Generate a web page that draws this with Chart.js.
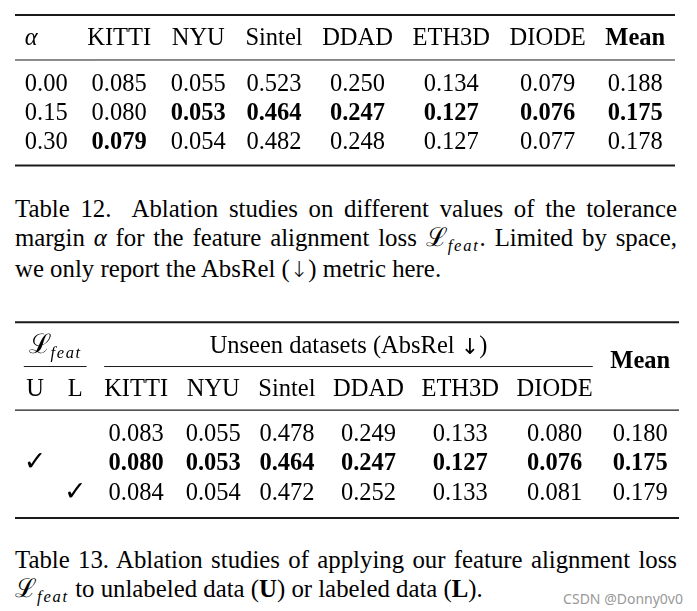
<!DOCTYPE html>
<html>
<head>
<meta charset="utf-8">
<script src="https://cdn.jsdelivr.net/npm/chart.js@4.4.1/dist/chart.umd.min.js"></script>
<style>
html,body{margin:0;padding:0;background:#fff}
body{width:697px;height:611px;position:relative;overflow:hidden}
canvas{position:absolute;left:0}
.cap{position:absolute;left:15px;width:662px;font:24.8px/28px 'Liberation Serif',serif;color:#000}
.cap div{white-space:nowrap}
.cap .j{text-align:justify;text-align-last:justify}
.cal{font-family:'DejaVu Serif',serif;font-size:26px}
.sub{font-size:16.5px;font-style:italic;letter-spacing:1.8px;position:relative;top:5px}
.arr{font-family:'DejaVu Sans',sans-serif;font-size:22px;font-weight:300}
#wm{position:absolute;right:14px;top:589px;font:14px 'Noto Sans',sans-serif;color:#999}
</style>
</head>
<body>
<canvas id="t12" width="697" height="180" style="top:0"></canvas>
<div class="cap" style="top:195px">
  <div class="j">Table 12.&nbsp; Ablation studies on different values of the tolerance</div>
  <div class="j">margin <i>α</i> for the feature alignment loss <span class="cal">ℒ</span><span class="sub">feat</span>. Limited by space,</div>
  <div>we only report the AbsRel (<span class="arr">↓</span>) metric here.</div>
</div>
<canvas id="t13" width="697" height="230" style="top:300px"></canvas>
<div class="cap" style="top:546px">
  <div class="j">Table 13. Ablation studies of applying our feature alignment loss</div>
  <div><span class="cal">ℒ</span><span class="sub">feat</span> to unlabeled data (<b>U</b>) or labeled data (<b>L</b>).</div>
</div>
<div id="wm">CSDN @Donny0v0</div>
<script>
// values (AbsRel, lower is better)
const datasetNames = ['KITTI','NYU','Sintel','DDAD','ETH3D','DIODE']
const alphaLabels = ['0.00','0.15','0.30']
const alpha000 = [0.085,0.055,0.523,0.250,0.134,0.079,0.188]
const alpha015 = [0.080,0.053,0.464,0.247,0.127,0.076,0.175]
const alpha030 = [0.079,0.054,0.482,0.248,0.127,0.077,0.178]

const featUnlabeled = ['', '✓', '']
const featLabeled = ['', '', '✓']
const rowNone = [0.083,0.055,0.478,0.249,0.133,0.080,0.180]
const rowU = [0.080,0.053,0.464,0.247,0.127,0.076,0.175]
const rowL = [0.084,0.054,0.472,0.252,0.133,0.081,0.179]

const SERIF = "'Liberation Serif', serif"
const F = '24.5px ' + SERIF
const FB = 'bold 24.5px ' + SERIF
const FI = 'italic 24.5px ' + SERIF
const FCHK = "bold 27px 'DejaVu Sans', sans-serif"
const PITCH = 29.4

const mctx = document.createElement('canvas').getContext('2d')
function tw(t, f){ mctx.font = f; return mctx.measureText(t).width }

// latex-ish column layout from content widths
function layoutCols(cols, left, width){
  const w = cols.map(c => Math.max(...c.map(s => s.text ? tw(s.text, s.font) : 0)))
  const pad = (width - w.reduce((a,b)=>a+b,0)) / (2*w.length)
  let x = left
  return w.map(cw => { const l = x; x += cw + 2*pad; return {l, r:x, c:(l+x)/2, pad} })
}

// bold = first minimum per column
function bestRows(rows){
  return rows[0].map((_,c) => {
    let b = 0
    rows.forEach((r,i) => { if (r[c] < rows[b][c]) b = i })
    return b
  })
}

function partsWidth(parts){
  return parts.reduce((s,p) => s + tw(p.t, p.font) + (p.ls||0)*p.t.length, 0)
}

const cellText = {
  id:'cellText',
  afterDatasetsDraw(chart){
    const ctx = chart.ctx
    chart.data.datasets.forEach((ds,di) => {
      if (!ds.cells) return
      chart.getDatasetMeta(di).data.forEach((pt,i) => {
        const d = ds.data[i]
        ctx.save()
        ctx.fillStyle = '#000'
        ctx.textBaseline = 'alphabetic'
        if (d.parts){
          let x = pt.x - partsWidth(d.parts)/2
          ctx.textAlign = 'left'
          d.parts.forEach(p => {
            ctx.font = p.font
            for (const ch of (p.ls ? [...p.t] : [p.t])){
              ctx.fillText(ch, x, pt.y + (p.dy||0))
              x += tw(ch, p.font) + (p.ls||0)
            }
          })
        } else {
          ctx.font = d.font
          ctx.textAlign = d.align || 'center'
          ctx.fillText(d.text, pt.x, pt.y)
        }
        ctx.restore()
      })
    })
  }
}

function rule(x0, x1, y, w){
  return {data:[{x:x0,y},{x:x1,y}], showLine:true, borderColor:'#1a1a1a', borderWidth:w, pointRadius:0, clip:false}
}

function makeTable(canvas, y0px, cells, rules){
  const h = canvas.height
  const yMin = -y0px / PITCH
  return new Chart(canvas, {
    type:'scatter',
    data:{datasets:[...rules, {cells:true, data:cells, pointRadius:0}]},
    options:{
      responsive:false, animation:false, events:[],
      layout:{padding:0},
      plugins:{legend:{display:false}, tooltip:{enabled:false}},
      scales:{
        x:{type:'linear', display:false, min:0, max:canvas.width},
        y:{type:'linear', display:false, min:yMin, max:yMin + h/PITCH, reverse:true}
      }
    },
    plugins:[cellText]
  })
}

// ---- Table 12 ----
{
  const rows = [alpha000, alpha015, alpha030]
  const best = bestRows(rows)
  const heads = [{text:'α', font:FI}, ...datasetNames.map(n => ({text:n, font:F})), {text:'Mean', font:FB}]
  const cols = heads.map((hd,c) => {
    const list = [hd]
    rows.forEach((r,i) => list.push(c === 0 ? {text:alphaLabels[i], font:F} : {text:r[c-1].toFixed(3), font:best[c-1]===i ? FB : F}))
    return list
  })
  const L = layoutCols(cols, 15, 660)
  const rowY = [0, 1.55, 2.55, 3.55]
  const cells = []
  cols.forEach((list,c) => list.forEach((s,r) => {
    cells.push({x: c === 0 ? L[0].l + L[0].pad : L[c].c, y: rowY[r], text:s.text, font:s.font, align: c === 0 ? 'left' : 'center'})
  }))
  const x0 = L[0].l, x1 = L[L.length-1].r
  makeTable(document.getElementById('t12'), 45, cells, [rule(x0,x1,-1.02,2), rule(x0,x1,0.51,1), rule(x0,x1,4.1,2)])
}

// ---- Table 13 ----
{
  const rows = [rowNone, rowU, rowL]
  const best = bestRows(rows)
  const cols = []
  cols.push([{text:'U', font:F}, ...featUnlabeled.map(t => ({text:t, font:FCHK}))])
  cols.push([{text:'L', font:F}, ...featLabeled.map(t => ({text:t, font:FCHK}))])
  datasetNames.concat(['Mean']).forEach((n,c) => {
    cols.push([{text:n, font: n === 'Mean' ? FB : F}, ...rows.map((r,i) => ({text:r[c].toFixed(3), font:best[c]===i ? FB : F}))])
  })
  const L = layoutCols(cols, 15, 664)
  const rowY = [1.46, 2.99, 3.99, 4.99]
  const cells = []
  cols.forEach((list,c) => list.forEach((s,r) => {
    if (!s.text) return
    cells.push({x:L[c].c, y: (c === 8 && r === 0) ? 0.51 : rowY[r], text:s.text, font:s.font})
  }))
  const featMid = (L[0].l + L[1].r)/2
  const unseenMid = (L[2].l + L[7].r)/2
  cells.push({x:featMid, y:0, parts:[
    {t:'ℒ', font:"27px 'DejaVu Serif', serif"},
    {t:'feat', font:'italic 16.5px ' + SERIF, dy:5, ls:1.6}
  ]})
  cells.push({x:unseenMid, y:0, parts:[
    {t:'Unseen datasets (AbsRel ', font:F},
    {t:'↓', font:"22px 'DejaVu Sans', sans-serif", dy:1},
    {t:')', font:F}
  ]})
  const x0 = L[0].l, x1 = L[8].r
  makeTable(document.getElementById('t13'), 53, cells, [
    rule(x0,x1,-1.05,2),
    rule(L[0].l + L[0].pad, L[1].r - L[1].pad, 0.46, 1),
    rule(L[2].l + L[2].pad, L[7].r - L[7].pad, 0.46, 1),
    rule(x0,x1,1.94,1.3),
    rule(x0,x1,5.61,2)
  ])
}
</script>
</body>
</html>
